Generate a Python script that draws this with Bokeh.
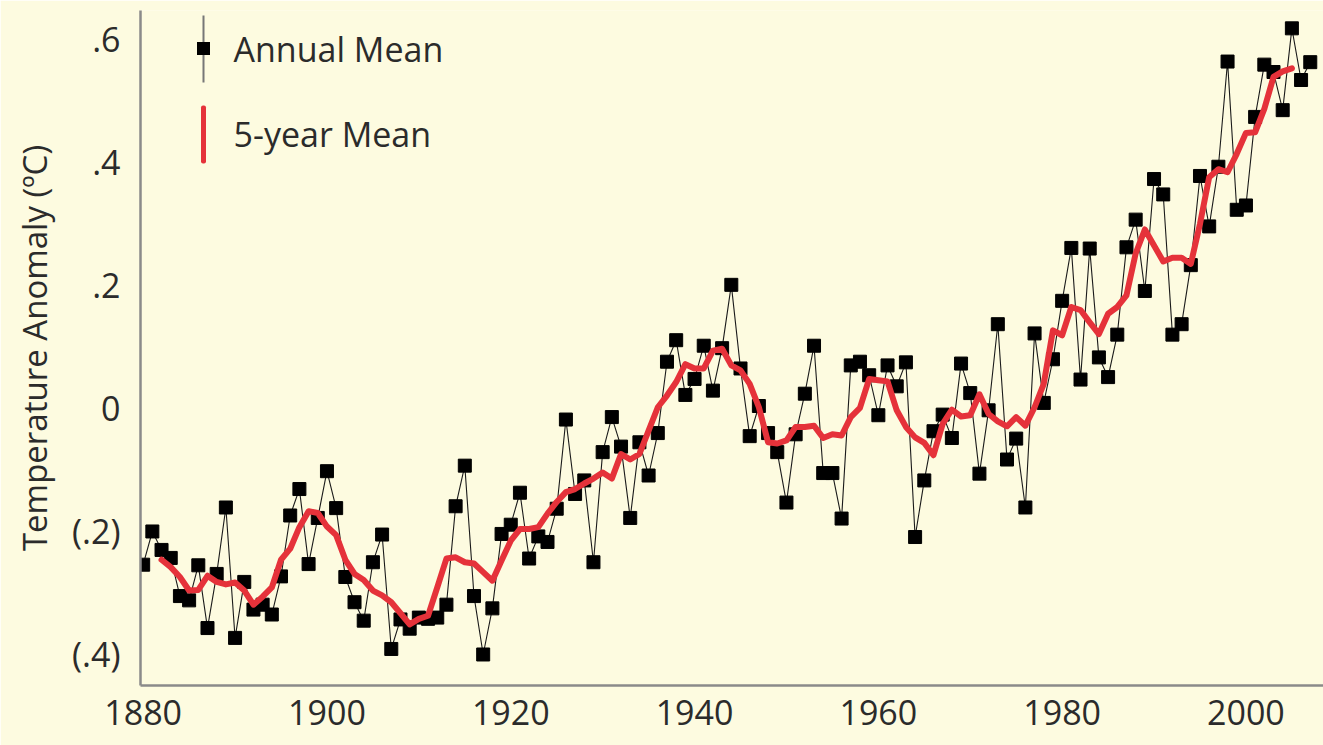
from bokeh.plotting import figure
from bokeh.models import Range1d, FixedTicker, Label, BoxAnnotation
from bokeh.embed import file_html
from bokeh.resources import INLINE

# ---- data ----
years = list(range(1880, 2008))
annual_mean = [
    -0.254, -0.200, -0.230, -0.243, -0.305, -0.312, -0.255, -0.357, -0.269, -0.161,
    -0.373, -0.282, -0.327, -0.319, -0.335, -0.273, -0.174, -0.131, -0.253, -0.178,
    -0.102, -0.162, -0.274, -0.315, -0.345, -0.250, -0.205, -0.391, -0.343, -0.358,
    -0.340, -0.342, -0.340, -0.319, -0.159, -0.093, -0.305, -0.400, -0.325, -0.204,
    -0.189, -0.137, -0.244, -0.208, -0.217, -0.163, -0.018, -0.139, -0.117, -0.250,
    -0.071, -0.014, -0.062, -0.178, -0.055, -0.109, -0.040, 0.076, 0.111, 0.022,
    0.048, 0.102, 0.029, 0.098, 0.201, 0.065, -0.045, 0.004, -0.040, -0.071,
    -0.153, -0.042, 0.024, 0.102, -0.105, -0.105, -0.179, 0.070, 0.076, 0.054,
    -0.011, 0.070, 0.036, 0.075, -0.209, -0.117, -0.037, -0.010, -0.048, 0.073,
    0.025, -0.106, -0.003, 0.137, -0.083, -0.049, -0.161, 0.122, 0.009, 0.080,
    0.175, 0.261, 0.047, 0.260, 0.083, 0.051, 0.120, 0.262, 0.307, 0.191,
    0.373, 0.348, 0.120, 0.137, 0.233, 0.378, 0.296, 0.393, 0.564, 0.323,
    0.330, 0.474, 0.559, 0.547, 0.485, 0.618, 0.534, 0.563,
]

mean5_years = list(range(1882, 2006))
five_year_mean = [
    -0.246, -0.258, -0.274, -0.296, -0.295, -0.272, -0.282, -0.286,
    -0.283, -0.296, -0.319, -0.306, -0.291, -0.246, -0.228, -0.193, -0.167, -0.170,
    -0.192, -0.206, -0.246, -0.269, -0.279, -0.296, -0.304, -0.315, -0.333, -0.351,
    -0.342, -0.337, -0.291, -0.244, -0.242, -0.250, -0.252, -0.266, -0.280, -0.247,
    -0.215, -0.196, -0.196, -0.193, -0.171, -0.152, -0.136, -0.131, -0.122, -0.114,
    -0.104, -0.114, -0.074, -0.083, -0.074, -0.036, 0.002, 0.021, 0.043, 0.072,
    0.065, 0.065, 0.094, 0.097, 0.070, 0.062, 0.040, 0.002, -0.055, -0.057,
    -0.052, -0.030, -0.030, -0.028, -0.048, -0.042, -0.044, -0.014, 0.001, 0.048,
    0.046, 0.044, -0.003, -0.030, -0.047, -0.056, -0.076, -0.025, -0.002, -0.013,
    -0.011, 0.023, -0.009, -0.021, -0.029, -0.014, -0.028, 0.002, 0.040, 0.127,
    0.119, 0.165, 0.160, 0.140, 0.121, 0.154, 0.165, 0.184, 0.252, 0.291,
    0.265, 0.239, 0.245, 0.245, 0.235, 0.300, 0.376, 0.389, 0.384, 0.414,
    0.448, 0.449, 0.487, 0.539, 0.548, 0.553,
]

x_ticks = [1880, 1900, 1920, 1940, 1960, 1980, 2000]
y_ticks = [-0.4, -0.2, 0, 0.2, 0.4, 0.6]
y_tick_labels = ["(.4)", "(.2)", "0", ".2", ".4", ".6"]
y_title = "Temperature Anomaly (\u00baC)"
legend_labels = ["Annual Mean", "5-year Mean"]

# ---- styling ----
BG = "#FDFBE0"
AXIS = "#8a8a8a"
TXT = "#2b2b2b"
RED = "#E5323A"
FONT = "Open Sans"

p = figure(width=1323, height=745,
           x_range=Range1d(1879.71, 2008.44), y_range=Range1d(-0.4504, 0.647),
           output_backend="svg", toolbar_location=None,
           min_border_left=140, min_border_right=0, min_border_top=10, min_border_bottom=60,
           background_fill_color=BG, border_fill_color=BG, outline_line_color=None)
p.grid.visible = False

p.xaxis.ticker = FixedTicker(ticks=x_ticks)
p.yaxis.ticker = FixedTicker(ticks=y_ticks)
p.yaxis.major_label_overrides = {t: l for t, l in zip(y_ticks, y_tick_labels)}
for ax in (p.xaxis, p.yaxis):
    ax.axis_line_color = AXIS
    ax.axis_line_width = 2.5
    ax.major_tick_line_color = None
    ax.minor_tick_line_color = None
    ax.major_tick_out = 0
    ax.major_tick_in = 0
    ax.major_label_text_font = FONT
    ax.major_label_text_font_size = "34px"
    ax.major_label_text_color = TXT
p.xaxis.major_label_standoff = 14
p.yaxis.major_label_standoff = 20
p.yaxis.major_label_orientation = "horizontal"
p.yaxis.axis_label = y_title
p.yaxis.axis_label_text_font = FONT
p.yaxis.axis_label_text_font_size = "33px"
p.yaxis.axis_label_text_font_style = "normal"
p.yaxis.axis_label_text_color = TXT
p.yaxis.axis_label_standoff = 12

p.line(years, annual_mean, line_color="#1a1a1a", line_width=1.1)
p.scatter(years, annual_mean, marker="square", size=13,
          fill_color="black", line_color="black")
p.line(mean5_years, five_year_mean, line_color=RED, line_width=6,
       line_join="round", line_cap="round")

# ---- legend (screen units, relative to frame) ----
p.add_layout(BoxAnnotation(left=62, right=64, bottom=603, top=670,
                           left_units="screen", right_units="screen",
                           bottom_units="screen", top_units="screen",
                           fill_color="#777777", fill_alpha=1, line_color=None))
p.add_layout(BoxAnnotation(left=56.5, right=69.5, bottom=630.5, top=643.5,
                           left_units="screen", right_units="screen",
                           bottom_units="screen", top_units="screen",
                           fill_color="black", fill_alpha=1, line_color=None))
p.add_layout(BoxAnnotation(left=60.5, right=65.5, bottom=522, top=580,
                           left_units="screen", right_units="screen",
                           bottom_units="screen", top_units="screen",
                           fill_color=RED, fill_alpha=1, line_color=None,
                           border_radius=2))
for lbl, sy in zip(legend_labels, [637, 552]):
    p.add_layout(Label(x=93, y=sy, x_units="screen", y_units="screen", text=lbl,
                       text_font=FONT, text_font_size="34px", text_color=TXT,
                       text_baseline="middle", text_align="left"))

open("out.html", "w").write(file_html(p, INLINE))
